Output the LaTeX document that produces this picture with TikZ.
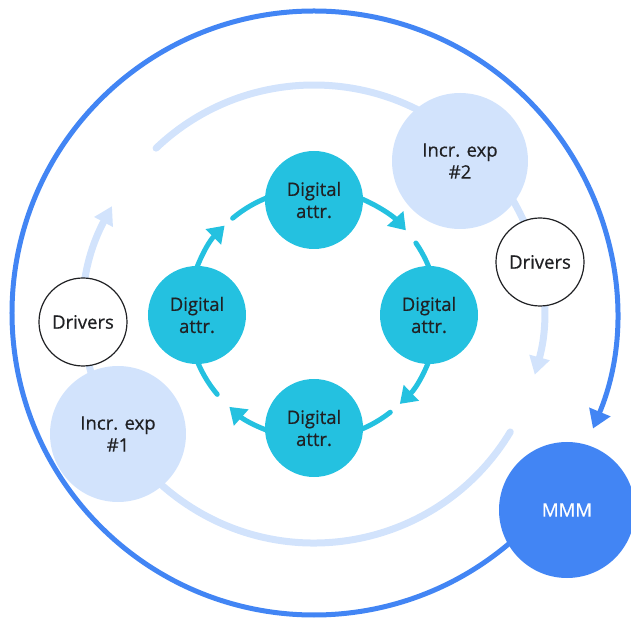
\documentclass[tikz,border=0pt]{standalone}
\usepackage{fontspec}
\setmainfont{Open Sans}[FakeBold=0.6]
\usetikzlibrary{arrows.meta}
\definecolor{cteal}{HTML}{24C1E0}
\definecolor{clight}{HTML}{D2E3FC}
\definecolor{cblue}{HTML}{4285F4}
\definecolor{ink}{HTML}{202124}
\begin{document}
\begin{tikzpicture}[x=1pt,y=1pt,
  txt/.style={font=\fontsize{18.5}{22}\selectfont, text=ink, align=center},
  digital/.style={circle, fill=cteal, minimum size=98pt, inner sep=0pt, txt},
  incr/.style={circle, fill=clight, minimum size=136pt, inner sep=0pt, txt},
  drivers/.style={circle, draw=ink, line width=1.2pt, fill=white, minimum size=88pt, inner sep=0pt, txt},
  mmm/.style={circle, fill=cblue, minimum size=136pt, inner sep=0pt, txt, text=white},
  tealarc/.style={draw=cteal, line width=5pt},
  tealtip/.style={-{Triangle[length=16pt,width=21pt]}},
  lightarc/.style={draw=clight, line width=7pt, line cap=round},
  lighttip/.style={-{Triangle[length=18pt,width=20pt]}},
  bluearc/.style={draw=cblue, line width=5pt},
  bluetip/.style={-{Triangle[length=18pt,width=22pt]}},
]
\useasboundingbox (-314,-306) rectangle (317,314);
\coordinate (O) at (0,0);
\coordinate (C) at (-1,0);
\coordinate (BC) at (0,1);

% outer blue cycle
\draw[bluearc, bluetip] (BC) ++(-45:302) arc[start angle=-45, end angle=-382.5, radius=302];

% light blue ring
\draw[lightarc, lighttip] (O) ++(133.6:229) arc[start angle=133.6, end angle=-15.4, radius=229];
\draw[lightarc, lighttip] (O) ++(-31:229) arc[start angle=-31, end angle=-208.1, radius=229];

% teal inner cycle
\foreach \a/\b/\c/\d in {68/42/34.6/15, -15/-46/-51.8/-75, -105/-132/-140/-165, 165/135/130/105} {
  \draw[tealarc, tealtip] (C) ++(\a:125) arc[start angle=\a, end angle=\b, radius=125];
  \draw[tealarc, line cap=round] (C) ++(\c:125) arc[start angle=\c, end angle=\d, radius=125];
}

\node[digital] (d1) at (0,114) {Digital\\attr.};
\node[digital] (d2) at (115,-1) {Digital\\attr.};
\node[digital] (d3) at (0,-114) {Digital\\attr.};
\node[digital] (d4) at (-117,-1) {Digital\\attr.};
\node[incr] (i2) at (146,153) {Incr. exp\\\#2};
\node[incr] (i1) at (-196,-120) {Incr. exp\\\#1};
\node[drivers] (dr2) at (226,52) {Drivers};
\node[drivers] (dr1) at (-231,-8) {Drivers};
\node[mmm] (m) at (253,-196) {MMM};
\end{tikzpicture}
\end{document}
